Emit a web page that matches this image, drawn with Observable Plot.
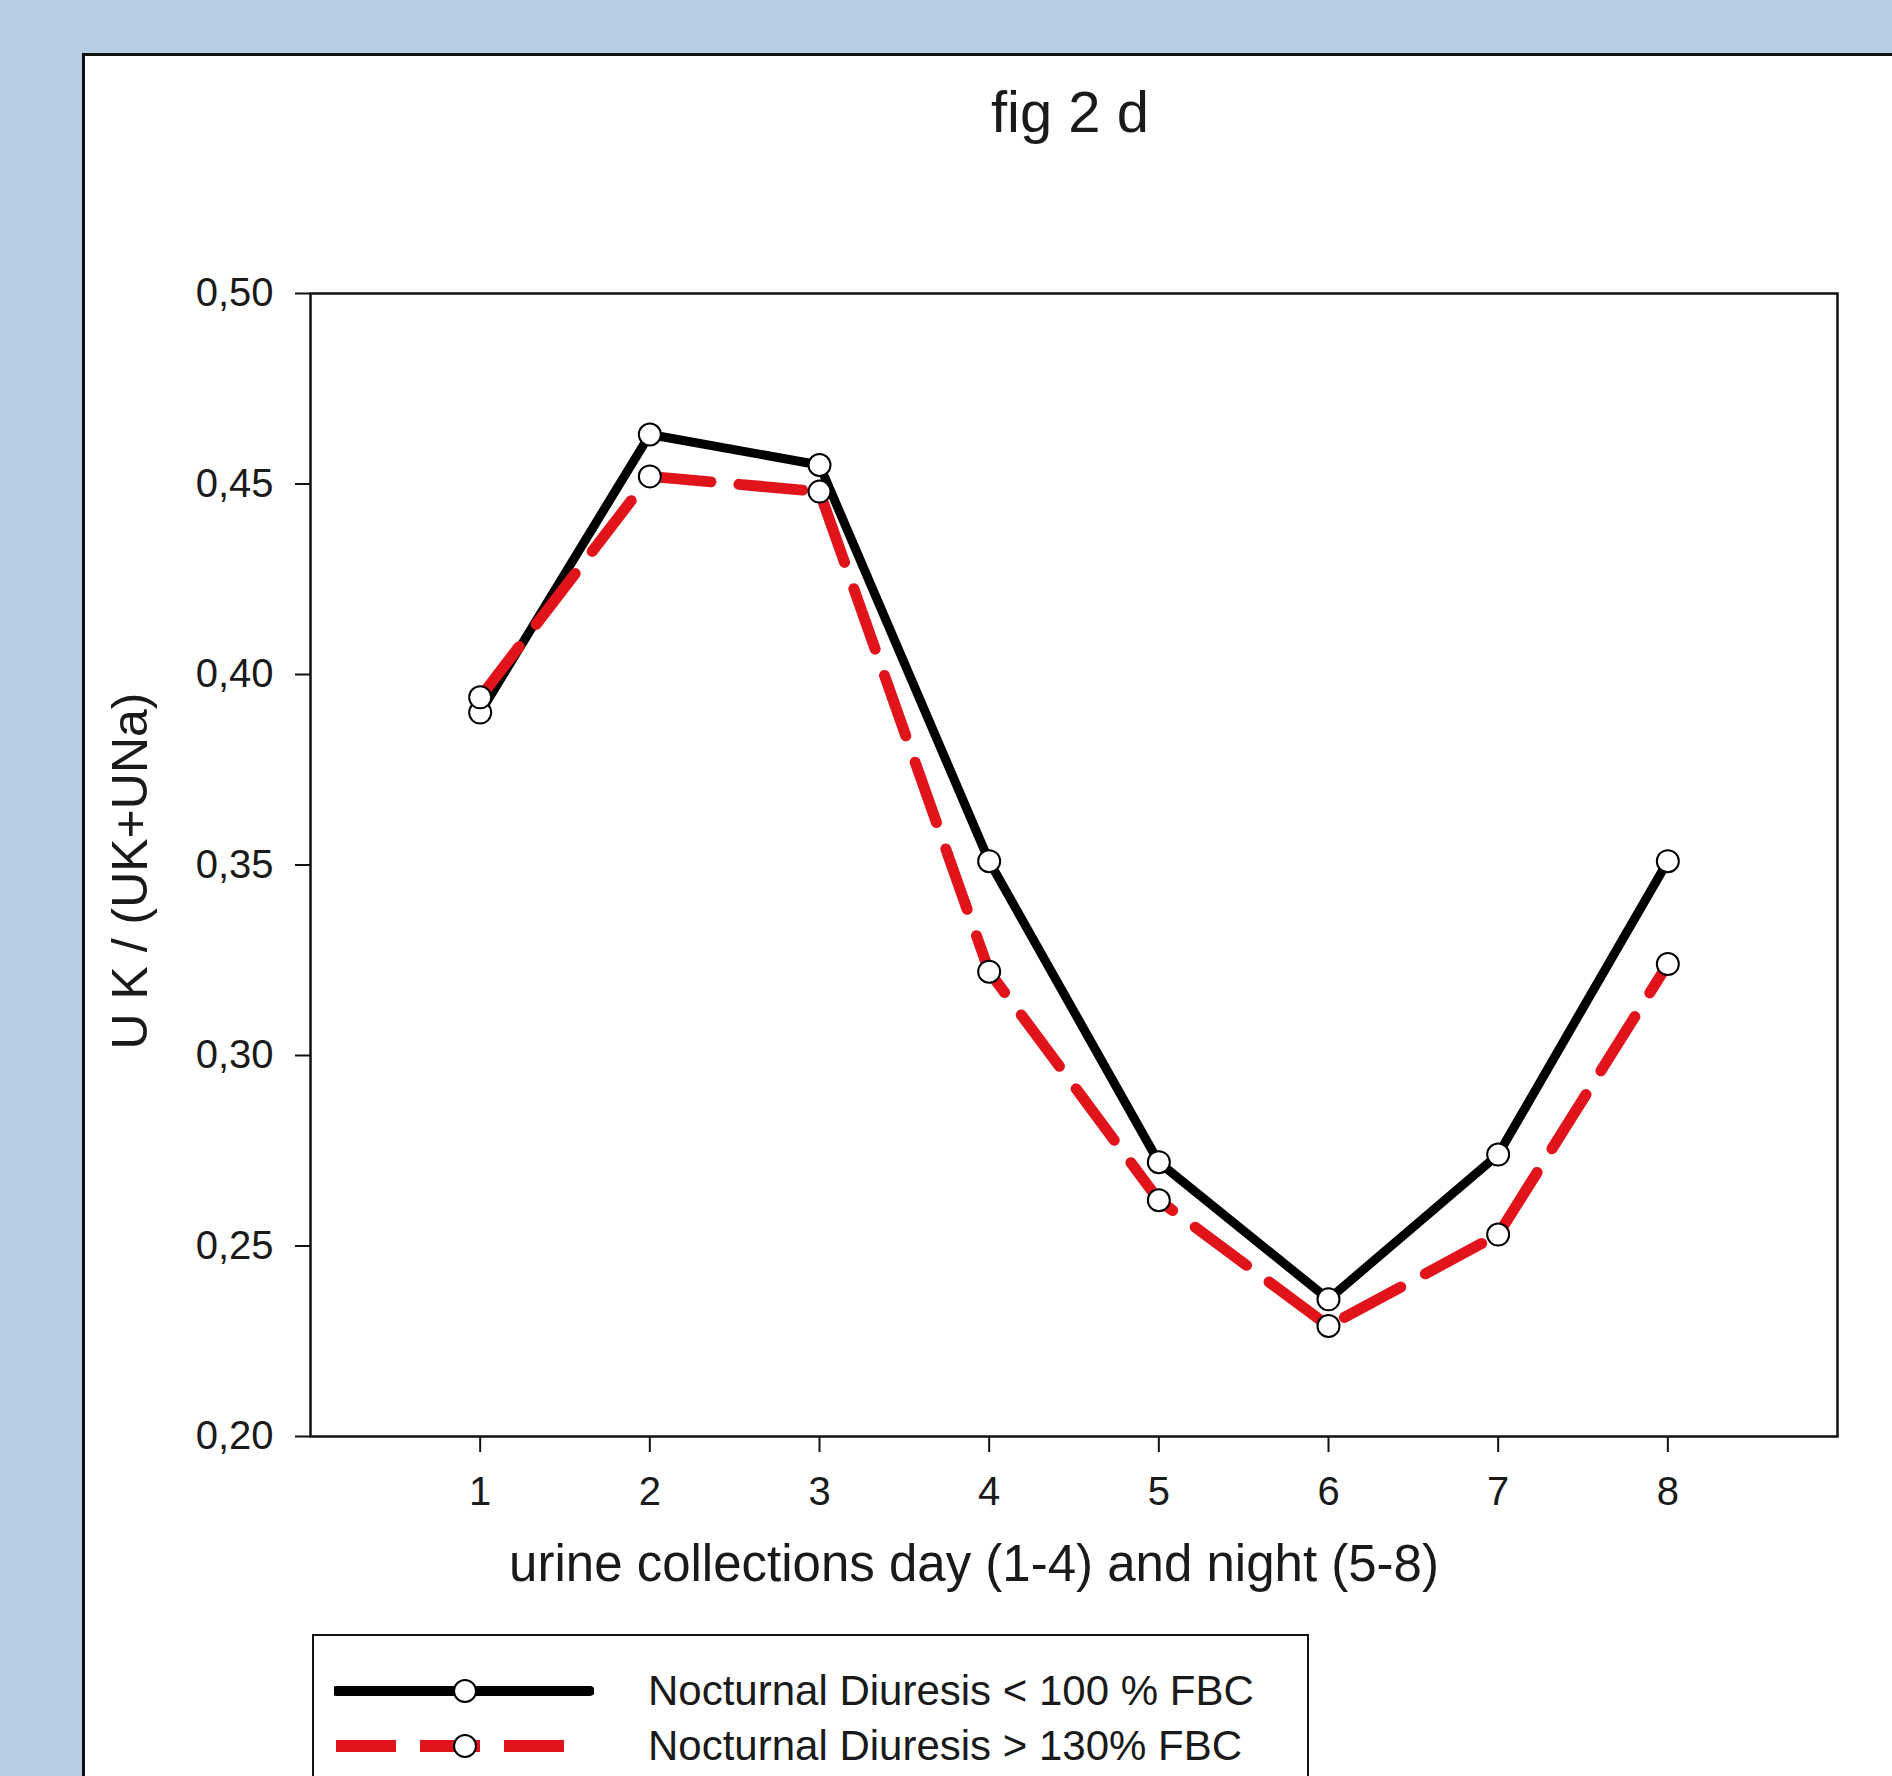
<!DOCTYPE html>
<html>
<head>
<meta charset="utf-8">
<script src="https://cdn.jsdelivr.net/npm/d3@7"></script>
<script src="https://cdn.jsdelivr.net/npm/@observablehq/plot@0.6"></script>
<style>
  html, body { margin: 0; padding: 0; }
  body { width: 1892px; height: 1776px; background: #b8cce4; position: relative; overflow: hidden;
         font-family: "Liberation Sans", Arial, sans-serif; color: #1a1a1a; }
  #panel { position: absolute; left: 82px; top: 53px; width: 1900px; height: 1800px; background: #fff;
           border: 3px solid #111; box-sizing: border-box; }
  #chart { position: absolute; left: 0; top: 0; }
  .lbl { position: absolute; white-space: nowrap; }
  #title { left: 1070px; top: 111px; transform: translate(-50%, -50%); font-size: 58px; }
  #xlabel { left: 974px; top: 1563px; transform: translate(-50%, -50%); font-size: 51px; }
  #ylabel { left: 130px; top: 871px; transform: translate(-50%, -50%) rotate(-90deg); font-size: 50px; }
  #legend { position: absolute; left: 312px; top: 1634px; width: 997px; height: 200px; border: 2.5px solid #111;
            box-sizing: border-box; background: #fff; }
  .row { position: absolute; left: 0; height: 50px; width: 100%; }
  .row svg { position: absolute; left: 20px; top: 0; }
  .row span { position: absolute; left: 334px; top: 50%; transform: translateY(-50%); font-size: 42px; white-space: nowrap; }
</style>
</head>
<body>
<div id="panel"></div>
<div id="chart"></div>
<div id="title" class="lbl">fig 2 d</div>
<div id="ylabel" class="lbl">U K / (UK+UNa)</div>
<div id="xlabel" class="lbl">urine collections day (1-4) and night (5-8)</div>
<div id="legend"></div>
<script>
// Data
const collections = [1, 2, 3, 4, 5, 6, 7, 8];
const below100 = [0.390, 0.463, 0.455, 0.351, 0.272, 0.236, 0.274, 0.351];
const above130 = [0.394, 0.452, 0.448, 0.322, 0.262, 0.229, 0.253, 0.324];
const seriesNames = ["Nocturnal Diuresis < 100 % FBC", "Nocturnal Diuresis > 130% FBC"];
const yTicks = [0.20, 0.25, 0.30, 0.35, 0.40, 0.45, 0.50];
const xTicks = [1, 2, 3, 4, 5, 6, 7, 8];

const blackRows = collections.map((c, i) => ({x: c, y: below100[i]}));
const redRows = collections.map((c, i) => ({x: c, y: above130[i]}));

const RED = "#e2141b";
const DASH = "64,28";

const chart = Plot.plot({
  width: 1892,
  height: 1500,
  marginLeft: 310,
  marginRight: 55,
  marginTop: 293,
  marginBottom: 64,
  style: {background: "transparent", fontFamily: "'Liberation Sans', Arial, sans-serif", fontSize: "40px", color: "#1a1a1a", overflow: "visible"},
  x: {domain: [0, 9]},
  y: {domain: [0.2, 0.5]},
  marks: [
    Plot.frame({stroke: "#111", strokeWidth: 2.5}),
    Plot.axisX({ticks: xTicks, tickSize: 16, tickPadding: 24, label: null, fontSize: 40, stroke: "#111", strokeWidth: 2}),
    Plot.axisY({ticks: yTicks, tickSize: 15, tickPadding: 22, label: null, fontSize: 40,
                tickFormat: d => d.toFixed(2).replace(".", ","), stroke: "#111", strokeWidth: 2}),
    Plot.lineY(blackRows, {x: "x", y: "y", stroke: "#000", strokeWidth: 9}),
    Plot.lineY(redRows, {x: "x", y: "y", stroke: RED, strokeWidth: 11, strokeDasharray: DASH}),
    Plot.dot(blackRows, {x: "x", y: "y", r: 11, fill: "white", stroke: "#000", strokeWidth: 2}),
    Plot.dot(redRows, {x: "x", y: "y", r: 11, fill: "white", stroke: "#000", strokeWidth: 2})
  ]
});
document.getElementById("chart").appendChild(chart);

// Legend
const legend = document.getElementById("legend");
const rowsDef = [
  {name: seriesNames[0], stroke: "#000", width: 10, dash: null, x2: 256, top: 30},
  {name: seriesNames[1], stroke: RED, width: 12, dash: "60,24", x2: 230, top: 85}
];
for (const r of rowsDef) {
  const row = document.createElement("div");
  row.className = "row";
  row.style.top = r.top + "px";
  const ns = "http://www.w3.org/2000/svg";
  const svg = document.createElementNS(ns, "svg");
  svg.setAttribute("width", "260");
  svg.setAttribute("height", "50");
  const line = document.createElementNS(ns, "line");
  line.setAttribute("x1", "2"); line.setAttribute("x2", String(r.x2));
  line.setAttribute("y1", "25"); line.setAttribute("y2", "25");
  line.setAttribute("stroke", r.stroke);
  line.setAttribute("stroke-width", r.width);
  line.setAttribute("stroke-linecap", "round");
  if (r.dash) { line.setAttribute("stroke-dasharray", r.dash); line.setAttribute("stroke-linecap", "butt"); }
  svg.appendChild(line);
  const c = document.createElementNS(ns, "circle");
  c.setAttribute("cx", "131"); c.setAttribute("cy", "25"); c.setAttribute("r", "11");
  c.setAttribute("fill", "white"); c.setAttribute("stroke", "#000"); c.setAttribute("stroke-width", "2");
  svg.appendChild(c);
  row.appendChild(svg);
  const t = document.createElement("span");
  t.textContent = r.name;
  row.appendChild(t);
  legend.appendChild(row);
}
</script>
</body>
</html>
